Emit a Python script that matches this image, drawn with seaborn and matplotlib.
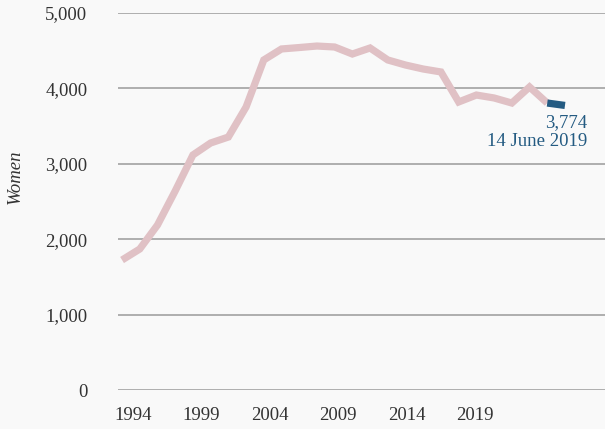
import numpy as np
import pandas as pd
import matplotlib
matplotlib.use("Agg")
import matplotlib.pyplot as plt
import seaborn as sns

# women in prison, annual readings, then the latest weekly figure
years = list(range(1994, 2019))
women = [1724, 1870, 2188, 2640, 3117, 3276, 3355, 3753, 4377, 4523,
         4542, 4562, 4549, 4456, 4536, 4377, 4310, 4257, 4218, 3820,
         3912, 3873, 3806, 4019, 3806]
latest_year = 2019
latest_value = 3774
latest_label = "14 June 2019"

y_ticks = [0, 1000, 2000, 3000, 4000, 5000]
x_tick_labels = ["1994", "1999", "2004", "2009", "2014", "2019"]

bg = "#f9f9f9"
pink = "#e0c1c5"
blue = "#245b82"
ink = "#333333"

sns.set_theme(style="whitegrid")
sns.set_style("whitegrid", {
    "axes.facecolor": bg,
    "figure.facecolor": bg,
    "grid.color": "#9a9a9a",
    "axes.edgecolor": bg,
})
plt.rcParams["font.family"] = ["Liberation Serif", "DejaVu Serif"]

df = pd.DataFrame({"year": years, "women": women})
df_latest = pd.DataFrame({"year": [years[-1], latest_year],
                          "women": [women[-1], latest_value]})

fig = plt.figure(figsize=(6.05, 4.29), dpi=100)
ax = fig.add_axes([0.195, 0.0909, 0.805, 0.8788])

sns.lineplot(data=df, x="year", y="women", ax=ax, color=pink,
             linewidth=5.2, solid_capstyle="butt", solid_joinstyle="miter")
sns.lineplot(data=df_latest, x="year", y="women", ax=ax, color=blue,
             linewidth=5.2, solid_capstyle="butt", solid_joinstyle="miter")

ax.set_ylim(0, 5000)
ax.set_xlim(1993.77, 2021.26)
ax.set_yticks(y_ticks)
ax.set_yticklabels([f"{v:,}" for v in y_ticks])
tick_pos = 1994.62 + 3.86 * np.arange(len(x_tick_labels))
ax.set_xticks(tick_pos)
ax.set_xticklabels(x_tick_labels)
ax.grid(axis="x", visible=False)
ax.grid(axis="y", linewidth=1.1)
for s in ax.spines.values():
    s.set_visible(False)
ax.tick_params(axis="y", length=0, pad=22, labelsize=13.5, labelcolor=ink)
ax.tick_params(axis="x", length=0, pad=12.5, labelsize=13.5, labelcolor=ink)

ax.set_xlabel("")
ax.set_ylabel("Women", fontstyle="italic", fontsize=13.5, color=ink)
ax.yaxis.set_label_coords(-0.193, 0.565)

ax.annotate(f"{latest_value:,}\n{latest_label}", xy=(latest_year, latest_value),
            xytext=(16, -6), textcoords="offset points", ha="right", va="top",
            color=blue, fontsize=13.5, linespacing=1.2)

fig.savefig("out.png", dpi=100, facecolor=bg)
